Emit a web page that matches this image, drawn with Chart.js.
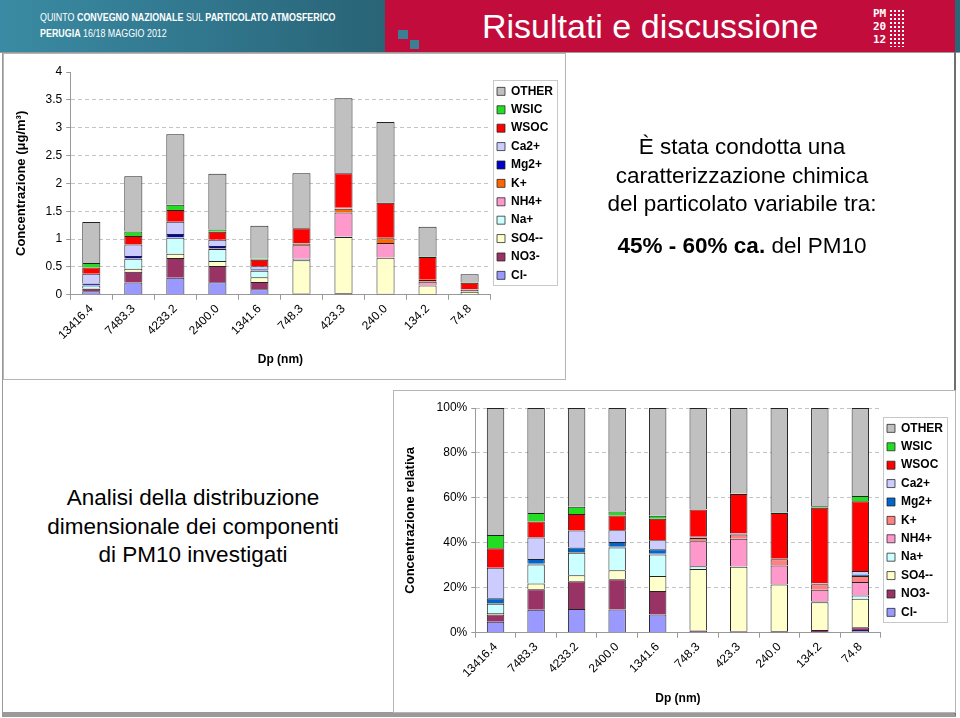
<!DOCTYPE html>
<html>
<head>
<meta charset="utf-8">
<script src="https://cdn.jsdelivr.net/npm/chart.js@4.4.0/dist/chart.umd.min.js"></script>
<style>
  body { margin: 0; width: 960px; height: 718px; background: #fff; overflow: hidden; position: relative;
         font-family: "Liberation Sans", Arial, sans-serif; }
  .abs { position: absolute; }
  #band { left: 0; top: 0; width: 960px; height: 52px;
          background: linear-gradient(90deg, #3a8ba3 0%, #2f7389 25%, #275e70 45%, #3b7d91 65%, #2a6679 100%); }
  #band .l1, #band .l2 { position: absolute; left: 40px; color: #fff; font-size: 11px; white-space: nowrap;
          transform: scaleX(0.81); transform-origin: 0 0; }
  #band .l1 { top: 11px; }
  #band .l2 { top: 27px; }
  #red { left: 385px; top: 0; width: 570px; height: 52px; background: #c20c3c; }
  .sq { background: #3a7f95; }
  #title { left: 482px; top: 7px; color: #fff; font-size: 34px; white-space: nowrap; }
  #logo { left: 873px; top: 7px; color: #fff; font: bold 11px "DejaVu Sans Mono", monospace; line-height: 13px; }
  #dots { left: 889px; top: 9px; width: 16px; height: 38px;
          background-image: radial-gradient(#fff 1px, transparent 1.3px); background-size: 4px 4px; }
  #sep { left: 0; top: 52px; width: 960px; height: 1px; background: #9a9a9a; }
  #frame { left: 2px; top: 52px; width: 951px; height: 660px; border-left: 1px solid #999; border-right: 2px solid #6f6f6f;
           border-bottom: 5px solid #9a9a9a; }
  .box { border: 1px solid #b5b5b5; background: #fff; }
  #topBox { left: 3px; top: 53px; width: 561px; height: 325px; }
  #botBox { left: 393px; top: 390px; width: 561px; height: 321px; }
  canvas { display: block; }
  .txt { color: #000; font-size: 22.5px; text-align: center; line-height: 28.5px; white-space: nowrap; }
</style>
</head>
<body>
<div id="band" class="abs">
  <div class="l1">QUINTO <b>CONVEGNO NAZIONALE</b> SUL <b>PARTICOLATO ATMOSFERICO</b></div>
  <div class="l2"><b>PERUGIA</b> 16/18 MAGGIO 2012</div>
</div>
<div id="red" class="abs"></div>
<div class="abs sq" style="left:398px;top:30px;width:10px;height:9px"></div>
<div class="abs sq" style="left:410px;top:40px;width:9px;height:9px"></div>
<div id="title" class="abs">Risultati e discussione</div>
<div id="logo" class="abs">PM<br>20<br>12</div>
<div id="dots" class="abs"></div>
<div id="sep" class="abs"></div>
<div id="frame" class="abs"></div>

<div id="topBox" class="abs box"><canvas id="absChart" width="559" height="323"></canvas></div>
<div id="botBox" class="abs box"><canvas id="relChart" width="559" height="319"></canvas></div>

<div class="abs txt" style="left:562px;top:133px;width:360px">
  È stata condotta una<br>caratterizzazione chimica<br>del particolato variabile tra:
</div>
<div class="abs txt" style="left:562px;top:232px;width:360px"><b>45% - 60% ca.</b> del PM10</div>

<div class="abs txt" style="left:13px;top:484px;width:360px">
  Analisi della distribuzione<br>dimensionale dei componenti<br>di PM10 investigati
</div>

<script>
// particle diameter classes (nm)
const sizes = ["13416.4", "7483.3", "4233.2", "2400.0", "1341.6", "748.3", "423.3", "240.0", "134.2", "74.8"];

// concentrations in ug/m3, one array per component
const cl    = [0.064, 0.219, 0.305, 0.224, 0.100, 0.004, 0.005, 0.004, 0.003, 0.0045];
const no3   = [0.042, 0.192, 0.354, 0.293, 0.131, 0.018, 0.020, 0.015, 0.012, 0.0045];
const so4   = [0.009, 0.055, 0.078, 0.087, 0.082, 0.597, 1.010, 0.645, 0.150, 0.047];
const na    = [0.053, 0.181, 0.288, 0.219, 0.119, 0.026, 0.010, 0.005, 0.004, 0.0055];
const nh4   = [0, 0, 0, 0, 0, 0.242, 0.430, 0.260, 0.064, 0.022];
const k     = [0.004, 0.006, 0.009, 0.007, 0.004, 0.033, 0.070, 0.085, 0.030, 0.010];
const mg    = [0.029, 0.045, 0.058, 0.046, 0.024, 0.004, 0.005, 0.003, 0.002, 0.0026];
const ca    = [0.176, 0.204, 0.219, 0.113, 0.051, 0.007, 0.010, 0.005, 0.004, 0.0055];
const wsoc  = [0.114, 0.153, 0.210, 0.143, 0.118, 0.264, 0.620, 0.630, 0.410, 0.115];
const wsic  = [0.077, 0.079, 0.095, 0.039, 0.017, 0.004, 0.005, 0.008, 0.007, 0.0085];
const other = [0.737, 0.995, 1.264, 1.000, 0.594, 0.981, 1.345, 1.440, 0.534, 0.145];

const species = ["Cl-", "NO3-", "SO4--", "Na+", "NH4+", "K+", "Mg2+", "Ca2+", "WSOC", "WSIC", "OTHER"];
const series = [cl, no3, so4, na, nh4, k, mg, ca, wsoc, wsic, other];

const absTicks = [0, 0.5, 1, 1.5, 2, 2.5, 3, 3.5, 4];
const relTicks = [0, 20, 40, 60, 80, 100];

const topColors = ["#9999ff", "#993366", "#ffffcc", "#ccffff", "#ff99cc", "#ff6600", "#0000cc", "#ccccff", "#ff0000", "#22dd22", "#c0c0c0"];
const botColors = ["#9999ff", "#993366", "#ffffcc", "#ccffff", "#ff99cc", "#ff8080", "#0066cc", "#ccccff", "#ff0000", "#22dd22", "#c0c0c0"];

// share of each component in each size class
const totals = sizes.map((s, j) => series.reduce((sum, arr) => sum + arr[j], 0));
const shares = series.map(arr => arr.map((v, j) => v / totals[j] * 100));

const FONT = "'Liberation Sans', Arial, sans-serif";

// frame around the legend entries, like the Excel legend box
const legendBox = {
  id: "legendBox",
  afterDraw(chart) {
    const hb = chart.legend && chart.legend.legendHitBoxes;
    if (!hb || !hb.length) return;
    let l = Infinity, t = Infinity, r = -Infinity, b = -Infinity;
    hb.forEach(h => {
      l = Math.min(l, h.left); t = Math.min(t, h.top);
      r = Math.max(r, h.left + h.width); b = Math.max(b, h.top + h.height);
    });
    const ctx = chart.ctx;
    ctx.save();
    ctx.strokeStyle = "#c8c8c8";
    ctx.lineWidth = 1;
    ctx.strokeRect(Math.round(l - 4) + 0.5, Math.round(t - 5) + 0.5, Math.round(r - l + 8), Math.round(b - t + 9));
    ctx.restore();
  }
};

function makeSets(values, colors) {
  return species.map((name, i) => ({
    label: name,
    data: values[i],
    backgroundColor: colors[i],
    borderColor: "#222",
    borderWidth: { top: 1, left: 1, right: 1, bottom: 0 },
    borderSkipped: false,
    barPercentage: 0.43,
    categoryPercentage: 1
  }));
}

function makeChart(canvas, values, colors, opts) {
  return new Chart(canvas, {
    type: "bar",
    data: { labels: sizes, datasets: makeSets(values, colors) },
    plugins: [legendBox],
    options: {
      responsive: false,
      animation: false,
      devicePixelRatio: 1,
      layout: { padding: opts.padding },
      plugins: {
        tooltip: { enabled: false },
        legend: {
          position: "right",
          fullSize: false,
          reverse: true,
          labels: {
            boxWidth: 8, boxHeight: 8, padding: 6.4, color: "#000",
            font: { family: FONT, size: 12, weight: "bold" }
          }
        }
      },
      scales: {
        x: {
          stacked: true,
          grid: { display: true, drawOnChartArea: false, drawTicks: true, tickLength: 5, color: "#999" },
          border: { color: "#999" },
          ticks: { minRotation: 45, maxRotation: 45, color: "#000", padding: 2, font: { family: FONT, size: 12 } },
          title: { display: true, text: "Dp (nm)", color: "#000", font: { family: FONT, size: 12, weight: "bold" },
                   padding: opts.xTitlePad }
        },
        y: {
          stacked: true,
          min: 0,
          max: opts.max,
          afterBuildTicks: (scale) => { scale.ticks = opts.ticks.map(v => ({ value: v })); },
          grid: {
            color: (c) => (c.tick && c.tick.value === opts.max && opts.hideTop) ? "rgba(0,0,0,0)" : "#c4c4c4",
            tickColor: "#999", drawTicks: true, tickLength: 4
          },
          border: { color: "#999", dash: [4, 3] },
          ticks: { color: "#000", padding: 4, font: { family: FONT, size: 12 }, callback: opts.fmt },
          title: { display: true, text: opts.yTitle, color: "#000", font: { family: FONT, size: 13, weight: "bold" },
                   padding: opts.yTitlePad }
        }
      }
    }
  });
}

makeChart(document.getElementById("absChart"), series, topColors, {
  max: 4, ticks: absTicks, hideTop: true,
  fmt: (v) => String(v),
  yTitle: "Concentrazione (μg/m³)",
  yTitlePad: { top: 7, bottom: 12 },
  xTitlePad: { top: 8, bottom: 0 },
  padding: { left: 3, top: 18, right: 0, bottom: 10 }
});

makeChart(document.getElementById("relChart"), shares, botColors, {
  max: 100, ticks: relTicks, hideTop: false,
  fmt: (v) => v + "%",
  yTitle: "Concentrazione relativa",
  yTitlePad: { top: 6, bottom: 14 },
  xTitlePad: { top: 9, bottom: 0 },
  padding: { left: 3, top: 17, right: 0, bottom: 4 }
});
</script>
</body>
</html>
